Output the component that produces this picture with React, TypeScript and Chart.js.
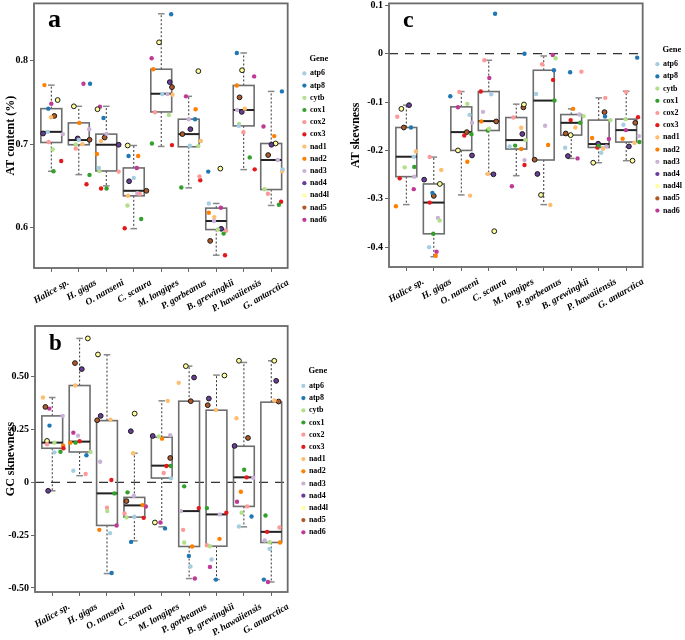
import React, { useEffect, useRef } from 'react';
import { Chart, registerables } from 'chart.js';

Chart.register(...registerables);

// ---------- categories ----------
const species = ['Halice sp.', 'H. gigas', 'O. nanseni', 'C. scaura', 'M. longipes', 'P. gorbeanus', 'B. grewingkii', 'P. hawaiiensis', 'G. antarctica'];
const genes = ['atp6', 'atp8', 'cytb', 'cox1', 'cox2', 'cox3', 'nad1', 'nad2', 'nad3', 'nad4', 'nad4l', 'nad5', 'nad6'];
const geneColors = ['#A6CEE3', '#1F78B4', '#B2DF8A', '#33A02C', '#FB9A99', '#E31A1C', '#FDBF6F', '#FF7F00', '#CAB2D6', '#6A3D9A', '#FFFF99', '#B15928', '#BE3A96'];
const outlinedGenes = ['nad4', 'nad4l', 'nad5'];

// ---------- panel a: AT content (rows = genes, cols = species) ----------
const atContent = [
  [0.7146, 0.705, 0.6715, 0.6596, 0.7597, 0.698, 0.6291, 0.7217, 0.6698], // atp6
  [0.7423, 0.772, 0.7312, 0.6857, 0.8551, 0.7297, 0.6671, 0.8088, 0.7629], // atp8
  [0.6936, 0.6995, 0.6679, 0.6267, 0.7348, 0.6976, 0.598, 0.7241, 0.6461], // cytb
  [0.6675, 0.6632, 0.6469, 0.6105, 0.7007, 0.6481, 0.5931, 0.6841, 0.6276], // cox1
  [0.7024, 0.6948, 0.6671, 0.6405, 0.738, 0.6612, 0.5964, 0.7142, 0.6406], // cox2
  [0.6798, 0.652, 0.6469, 0.5994, 0.6988, 0.6568, 0.5672, 0.6698, 0.6311], // cox3
  [0.732, 0.6999, 0.7036, 0.6382, 0.7589, 0.7036, 0.6128, 0.7423, 0.6675], // nad1
  [0.7704, 0.7253, 0.6881, 0.6857, 0.7894, 0.7416, 0.618, 0.77, 0.7095], // nad2
  [0.7119, 0.7178, 0.7122, 0.6413, 0.7597, 0.7297, 0.6081, 0.7407, 0.681], // nad3
  [0.7126, 0.7067, 0.6992, 0.6556, 0.774, 0.7178, 0.5988, 0.7384, 0.6992], // nad4
  [0.7526, 0.7451, 0.7416, 0.6983, 0.8215, 0.7871, 0.6707, 0.7882, 0.7007], // nad4l
  [0.7336, 0.7051, 0.7078, 0.6442, 0.768, 0.7119, 0.5844, 0.7558, 0.6869], // nad5
  [0.7482, 0.772, 0.7447, 0.6715, 0.8025, 0.757, 0.624, 0.7808, 0.7209], // nad6
];
const atContentJitter = [
  [-0.13, 0, -0.27, 0, 0.04, 0.04, -0.27, -0.18, 0.42],
  [-0.11, 0.41, -0.1, -0.19, 0.36, 0.23, -0.29, -0.25, 0.39],
  [0.05, -0.11, -0.25, -0.23, 0.28, 0.35, 0.06, -0.17, -0.24],
  [0.08, 0.39, 0.01, 0.27, -0.34, -0.27, 0.27, 0.22, 0.28],
  [-0.1, -0.11, 0.45, 0.22, -0.23, 0.39, 0.36, -0.01, -0.12],
  [0.36, 0.28, -0.19, -0.33, 0.39, 0.42, 0.32, 0.4, 0.36],
  [-0.01, 0.13, -0.19, -0.21, 0.41, 0.44, -0.07, 0.04, 0.4],
  [-0.25, 0.02, -0.34, 0.16, -0.29, 0.25, -0.27, -0.25, 0.11],
  [0.42, 0.38, 0.01, 0.13, 0.23, 0, -0.08, -0.24, 0.24],
  [-0.3, -0.04, 0.45, -0.17, 0.31, 0.06, 0.18, -0.07, 0.01],
  [0.23, -0.18, -0.32, -0.22, -0.08, 0.35, 0.15, -0.06, 0.16],
  [0.11, 0.39, -0.06, 0.46, 0.39, -0.23, -0.22, -0.15, -0.11],
  [0, 0.17, -0.23, 0.11, -0.35, -0.1, 0.17, 0.38, -0.28],
];
const atContentQ1 = [0.7019, 0.6992, 0.6679, 0.6382, 0.7384, 0.6968, 0.5979, 0.7217, 0.6457];
const atContentMedian = [0.7146, 0.7048, 0.6992, 0.6442, 0.7601, 0.7119, 0.6081, 0.7407, 0.681];
const atContentQ3 = [0.7423, 0.7253, 0.7119, 0.6715, 0.7894, 0.7297, 0.6235, 0.77, 0.7007];
const atContentLow = [0.6675, 0.6635, 0.6501, 0.599, 0.6972, 0.6477, 0.5673, 0.6695, 0.6267];
const atContentHigh = [0.7704, 0.7451, 0.7451, 0.6983, 0.8556, 0.757, 0.6291, 0.8088, 0.7629];
const atContentTicks = [0.6, 0.7, 0.8];
const atContentTickLabels = ['0.6', '0.7', '0.8'];

// ---------- panel c: AT skewness ----------
const atSkew = [
  [-0.213, -0.4, -0.1264, -0.0837, -0.192, -0.0831, -0.1944, -0.2047, -0.147], // atp6
  [-0.1526, -0.2878, -0.0879, 0.0825, 0.0, -0.0342, -0.0384, -0.1299, -0.0082], // atp8
  [-0.235, -0.345, -0.1037, -0.1553, -0.1786, -0.0095, -0.129, -0.1373, -0.1353], // cytb
  [-0.234, -0.3724, -0.1663, -0.1588, -0.19, -0.0969, -0.1429, -0.19, -0.1827], // cox1
  [-0.1305, -0.2137, -0.079, -0.0136, -0.132, -0.0219, -0.0371, -0.0913, -0.079], // cox2
  [-0.2577, -0.3078, -0.169, -0.0783, -0.23, -0.0542, -0.1373, -0.1938, -0.1312], // cox3
  [-0.202, -0.2405, -0.2934, -0.2487, -0.153, -0.3126, -0.1526, -0.1965, -0.1841], // nad1
  [-0.3155, -0.4178, -0.2233, -0.14, -0.197, -0.1889, -0.114, -0.1744, -0.1759], // nad2
  [-0.2542, -0.3394, -0.1429, -0.1202, -0.22, -0.149, -0.1258, -0.1917, -0.1704], // nad3
  [-0.1064, -0.2604, -0.2103, -0.2494, -0.166, -0.2487, -0.2116, -0.1862, -0.1917], // nad4
  [-0.114, -0.2693, -0.2, -0.367, -0.105, -0.292, -0.1683, -0.2254, -0.2212], // nad4l
  [-0.1526, -0.294, -0.1621, -0.14, -0.111, -0.2192, -0.165, -0.1208, -0.1429], // nad5
  [-0.28, -0.4095, -0.1106, -0.0501, -0.274, -0.0027, -0.2165, -0.1765, -0.158], // nad6
];
const atSkewJitter = [
  [0.27, -0.17, 0.3, 0.09, -0.24, -0.28, -0.22, 0.09, -0.1],
  [0.17, -0.05, -0.4, 0.23, 0.3, 0.37, -0.04, 0.23, 0.4],
  [-0.06, 0.21, 0.22, 0.01, 0.33, 0.43, 0.45, 0.43, -0.02],
  [0.29, -0.02, 0.37, -0.04, -0.04, 0.39, 0.33, 0.0, 0.48],
  [-0.33, -0.15, -0.07, -0.16, -0.1, -0.06, 0.37, 0.24, 0],
  [-0.24, -0.15, 0.11, -0.29, 0.3, 0.34, -0.02, -0.05, 0.43],
  [0.35, 0.27, 0.32, -0.04, 0.18, 0.24, 0.15, 0.16, 0.3],
  [-0.38, 0.07, 0.22, -0.27, 0.18, 0.16, 0.07, -0.24, -0.13],
  [0.29, 0.15, 0.39, -0.21, 0.3, 0.05, 0.3, 0.28, 0.46],
  [0.1, -0.35, 0.39, 0.17, 0.22, -0.23, -0.12, -0.02, 0.1],
  [-0.18, 0.22, -0.12, 0.2, 0.28, -0.1, -0.02, -0.2, 0.23],
  [-0.09, 0, 0.2, 0.27, 0.26, -0.33, -0.2, 0.21, 0.33],
  [0.27, 0.1, -0.12, 0.02, -0.16, 0.33, 0.23, 0.37, -0.01],
];
const atSkewQ1 = [-0.2542, -0.3724, -0.2, -0.1588, -0.1971, -0.2198, -0.1683, -0.1938, -0.1827];
const atSkewMedian = [-0.213, -0.3078, -0.1621, -0.1394, -0.1786, -0.0969, -0.1429, -0.1868, -0.158];
const atSkewQ3 = [-0.1526, -0.2693, -0.1099, -0.0783, -0.132, -0.0342, -0.1258, -0.1373, -0.1353];
const atSkewLow = [-0.312, -0.4198, -0.292, -0.2487, -0.2522, -0.312, -0.2165, -0.2254, -0.2212];
const atSkewHigh = [-0.1064, -0.2137, -0.0783, -0.0136, -0.1043, -0.0047, -0.114, -0.0913, -0.0776];
const atSkewTicks = [-0.4, -0.3, -0.2, -0.1, 0, 0.1];
const atSkewTickLabels = ['-0.4', '-0.3', '-0.2', '-0.1', '0', '0.1'];

// ---------- panel b: GC skewness ----------
const gcSkew = [
  [0.142, 0.055, -0.2405, -0.163, 0.019, -0.3985, -0.3653, -0.2087, -0.315], // atp6
  [0.2685, 0.128, -0.4288, -0.2818, -0.218, -0.3482, -0.4602, -0.1613, -0.4602], // atp8
  [0.188, 0.1437, -0.136, -0.166, 0.217, -0.2846, -0.3022, -0.144, -0.2832], // cytb
  [0.145, 0.188, -0.0522, -0.0474, 0.0773, -0.019, -0.122, 0.0598, -0.1566], // cox1
  [0.18, 0.0394, -0.1205, -0.147, 0.0441, -0.2248, -0.2974, -0.1139, -0.2135], // cox2
  [0.1613, 0.1945, 0.011, -0.168, 0.0773, -0.122, -0.144, 0.0237, -0.2343], // cox3
  [0.4015, 0.4583, 0.297, 0.1376, 0.3857, 0.471, 0.343, 0.3036, 0.3871], // nad1
  [0.1736, 0.188, -0.2248, -0.1077, 0.2068, -0.3036, -0.2675, -0.0446, -0.2846], // nad2
  [0.3145, 0.221, 0.0977, -0.0633, 0.2229, -0.1361, -0.1518, 0.022, -0.2751], // nad3
  [-0.04, 0.536, 0.3145, 0.242, 0.2196, 0.4962, 0.3966, 0.1722, 0.4805], // nad4
  [0.196, 0.6813, 0.6053, 0.3255, -0.19, 0.55, 0.5057, 0.5754, 0.5754], // nad4l
  [0.357, 0.5645, 0.294, -0.0887, 0.1153, 0.3842, 0.3653, 0.2102, 0.3824], // nad5
  [0.349, 0.2353, -0.204, -0.114, -0.19, -0.4554, -0.4003, -0.092, -0.4715], // nad6
];
const gcSkewJitter = [
  [0.08, -0.23, 0.11, 0, 0.34, 0.05, -0.18, -0.18, -0.06],
  [-0.1, 0.25, 0.17, -0.12, 0.12, -0.01, -0.02, 0.28, -0.27],
  [0.08, 0.4, 0.01, -0.29, -0.11, -0.18, -0.24, -0.08, -0.06],
  [0.3, -0.15, 0.27, -0.25, 0.33, -0.18, -0.35, 0.01, -0.21],
  [-0.19, 0.22, 0, -0.36, 0.07, -0.22, -0.35, 0.12, 0.3],
  [0.41, 0, 0.16, 0.34, 0.17, 0.35, 0.36, 0.1, -0.15],
  [-0.34, -0.16, 0.13, -0.04, 0.22, -0.38, -0.02, -0.27, 0.12],
  [0.4, -0.34, -0.28, 0.3, 0.01, 0.11, 0.11, -0.11, 0.32],
  [0.38, -0.06, -0.25, -0.02, 0.31, -0.3, 0.12, 0.34, -0.24],
  [-0.15, 0.08, -0.23, -0.13, -0.33, 0.18, -0.28, -0.34, 0.18],
  [-0.19, 0.3, -0.33, 0.01, -0.25, -0.12, 0.29, -0.18, 0.11],
  [-0.25, -0.17, -0.36, -0.29, 0.31, 0.06, -0.32, 0.15, 0.27],
  [-0.11, -0.23, 0.35, 0.42, -0.05, 0.21, -0.24, -0.25, -0.12],
];
const gcSkewQ1 = [0.1613, 0.1437, -0.204, -0.1646, 0.0204, -0.3036, -0.3022, -0.1139, -0.2846];
const gcSkewMedian = [0.188, 0.1927, -0.0522, -0.1091, 0.079, -0.1361, -0.1518, 0.0237, -0.2343];
const gcSkewQ3 = [0.3145, 0.4583, 0.2922, -0.0712, 0.2135, 0.3842, 0.3415, 0.1708, 0.3795];
const gcSkewLow = [-0.04, 0.0315, -0.4317, -0.277, -0.2106, -0.4554, -0.4602, -0.2106, -0.4715];
const gcSkewHigh = [0.4015, 0.6813, 0.604, 0.1376, 0.3857, 0.55, 0.5076, 0.5674, 0.5754];
const gcSkewTicks = [-0.5, -0.25, 0, 0.25, 0.5];
const gcSkewTickLabels = ['-0.50', '-0.25', '0', '0.25', '0.50'];

const SERIF = "'Liberation Serif', 'Times New Roman', serif";

type PanelSpec = {
  letter: string;
  letterSize: number;
  yTitle: string;
  values: number[][];
  jitter: number[][];
  q1: number[];
  median: number[];
  q3: number[];
  low: number[];
  high: number[];
  yMin: number;
  yMax: number;
  yTicks: number[];
  yTickLabels: string[];
  zeroLine: boolean;
  width: number;
  height: number;
  padTop: number;
  padRight: number;
  yAxisWidth: number;
  xAxisHeight: number;
  legendGap: number;
  titlePad: number;
  legendTitleTop: number;
  legendTitleBottom: number;
};

function decorPlugin(spec: PanelSpec) {
  const line = (ctx: CanvasRenderingContext2D, x1: number, y1: number, x2: number, y2: number) => {
    ctx.beginPath();
    ctx.moveTo(x1, y1);
    ctx.lineTo(x2, y2);
    ctx.stroke();
  };
  return {
    id: 'decor_' + spec.letter,
    beforeDatasetsDraw(chart: any) {
      const { ctx, chartArea: ca } = chart;
      const xs = chart.scales.x;
      const ys = chart.scales.y;
      ctx.save();
      if (spec.zeroLine) {
        ctx.strokeStyle = '#333';
        ctx.lineWidth = 1.2;
        ctx.setLineDash([9, 7]);
        const y0 = ys.getPixelForValue(0);
        line(ctx, ca.left, y0, ca.right, y0);
      }
      for (let i = 0; i < species.length; i++) {
        const cx = xs.getPixelForValue(i);
        const hw = xs.getPixelForValue(i + 0.38) - cx;
        const cw = xs.getPixelForValue(i + 0.12) - cx;
        const yq1 = ys.getPixelForValue(spec.q1[i]);
        const yq3 = ys.getPixelForValue(spec.q3[i]);
        const ymed = ys.getPixelForValue(spec.median[i]);
        const ylo = ys.getPixelForValue(spec.low[i]);
        const yhi = ys.getPixelForValue(spec.high[i]);
        ctx.setLineDash([2, 2]);
        ctx.strokeStyle = '#333';
        ctx.lineWidth = 1;
        line(ctx, cx, yq3, cx, yhi);
        line(ctx, cx, yq1, cx, ylo);
        ctx.setLineDash([]);
        ctx.strokeStyle = '#888';
        ctx.lineWidth = 1.5;
        line(ctx, cx - cw, yhi, cx + cw, yhi);
        line(ctx, cx - cw, ylo, cx + cw, ylo);
        ctx.strokeStyle = '#6e6e6e';
        ctx.lineWidth = 1.6;
        ctx.strokeRect(cx - hw, yq3, 2 * hw, yq1 - yq3);
        ctx.strokeStyle = '#222';
        ctx.lineWidth = 2;
        line(ctx, cx - hw, ymed, cx + hw, ymed);
      }
      ctx.restore();
    },
    afterDatasetsDraw(chart: any) {
      const { ctx, chartArea: ca } = chart;
      ctx.save();
      ctx.strokeStyle = '#6a6a6a';
      ctx.lineWidth = 1.8;
      ctx.strokeRect(ca.left, ca.top, ca.right - ca.left, ca.bottom - ca.top);
      ctx.fillStyle = '#000';
      ctx.font = `bold ${spec.letterSize}px ${SERIF}`;
      ctx.textAlign = 'left';
      ctx.textBaseline = 'alphabetic';
      ctx.fillText(spec.letter, ca.left + 14, ca.top + 24);
      ctx.restore();
    },
  };
}

function buildChart(canvas: HTMLCanvasElement, spec: PanelSpec) {
  const datasets = genes.map((g, gi) => {
    const outlined = outlinedGenes.includes(g);
    return {
      label: g,
      data: species.map((_, si) => ({ x: si + spec.jitter[gi][si], y: spec.values[gi][si] })),
      backgroundColor: geneColors[gi],
      borderColor: outlined ? '#1a1a1a' : geneColors[gi],
      borderWidth: outlined ? 1 : 0,
      pointRadius: outlined ? 2.4 : 2.2,
      pointHoverRadius: 2.4,
    };
  });
  return new Chart(canvas, {
    type: 'scatter',
    data: { datasets },
    options: {
      responsive: false,
      animation: false,
      events: [],
      layout: { padding: { top: spec.padTop, right: spec.padRight, bottom: 0, left: 0 } },
      scales: {
        x: {
          type: 'linear',
          min: -0.63,
          max: 8.6,
          afterBuildTicks: (s: any) => {
            s.ticks = species.map((_, i) => ({ value: i }));
          },
          afterFit: (s: any) => {
            s.height = spec.xAxisHeight;
            s.paddingLeft = 0;
            s.paddingRight = 0;
          },
          ticks: {
            callback: (v: any) => species[Math.round(Number(v))] ?? '',
            autoSkip: false,
            minRotation: 30,
            maxRotation: 30,
            labelOffset: 17,
            padding: 5,
            color: '#000',
            font: { family: SERIF, size: 9.5, weight: 'bold', style: 'italic' },
          },
          grid: { drawOnChartArea: false, drawTicks: true, tickLength: 4, color: '#666' },
          border: { display: false },
        },
        y: {
          type: 'linear',
          min: spec.yMin,
          max: spec.yMax,
          afterBuildTicks: (s: any) => {
            s.ticks = spec.yTicks.map((v) => ({ value: v }));
          },
          afterFit: (s: any) => {
            s.width = spec.yAxisWidth;
            s.paddingTop = 0;
            s.paddingBottom = 0;
          },
          ticks: {
            callback: (v: any) => {
              const idx = spec.yTicks.findIndex((t) => Math.abs(t - Number(v)) < 1e-9);
              return idx >= 0 ? spec.yTickLabels[idx] : '';
            },
            padding: 2,
            color: '#000',
            font: { family: SERIF, size: 10, weight: 'bold' },
          },
          grid: { drawOnChartArea: false, drawTicks: true, tickLength: 4, color: '#666' },
          border: { display: false },
          title: {
            display: true,
            text: spec.yTitle,
            color: '#000',
            font: { family: SERIF, size: 12, weight: 'bold' },
            padding: { top: spec.titlePad, bottom: 4 },
          },
        },
        gap: {
          type: 'linear',
          position: 'right',
          display: true,
          ticks: { display: false },
          grid: { display: false },
          border: { display: false },
          afterFit: (s: any) => {
            s.width = spec.legendGap;
            s.paddingTop = 0;
            s.paddingBottom = 0;
          },
        },
      },
      plugins: {
        tooltip: { enabled: false },
        legend: {
          position: 'right',
          align: 'start',
          fullSize: false,
          title: {
            display: true,
            text: 'Gene',
            color: '#000',
            font: { family: SERIF, size: 8.5, weight: 'bold' },
            padding: { top: spec.legendTitleTop, bottom: spec.legendTitleBottom },
          },
          labels: {
            usePointStyle: true,
            pointStyle: 'circle',
            boxWidth: 3,
            boxHeight: 3,
            padding: 4.2,
            color: '#000',
            font: { family: SERIF, size: 8, weight: 'bold' },
            generateLabels: (chart: any) =>
              (Chart.defaults.plugins.legend.labels.generateLabels as any)(chart).map((l: any) => ({
                ...l,
                strokeStyle: l.fillStyle,
                lineWidth: 0,
              })),
          },
        },
      },
    } as any,
    plugins: [decorPlugin(spec)],
  });
}

const panelA: PanelSpec = {
  letter: 'a', letterSize: 26, yTitle: 'AT content (%)',
  values: atContent, jitter: atContentJitter,
  q1: atContentQ1, median: atContentMedian, q3: atContentQ3, low: atContentLow, high: atContentHigh,
  yMin: 0.552, yMax: 0.868, yTicks: atContentTicks, yTickLabels: atContentTickLabels,
  zeroLine: false, width: 340, height: 318, padTop: 2, padRight: 1, yAxisWidth: 34, xAxisHeight: 50, legendGap: 11, titlePad: 4,
  legendTitleTop: 50.7, legendTitleBottom: 0.9,
};
const panelC: PanelSpec = {
  letter: 'c', letterSize: 24, yTitle: 'AT skewness',
  values: atSkew, jitter: atSkewJitter,
  q1: atSkewQ1, median: atSkewMedian, q3: atSkewQ3, low: atSkewLow, high: atSkewHigh,
  yMin: -0.441, yMax: 0.104, yTicks: atSkewTicks, yTickLabels: atSkewTickLabels,
  zeroLine: true, width: 352, height: 318, padTop: 2, padRight: 0, yAxisWidth: 49, xAxisHeight: 51, legendGap: 9, titlePad: 9,
  legendTitleTop: 42.4, legendTitleBottom: 0,
};
const panelB: PanelSpec = {
  letter: 'b', letterSize: 23, yTitle: 'GC sknewness',
  values: gcSkew, jitter: gcSkewJitter,
  q1: gcSkewQ1, median: gcSkewMedian, q3: gcSkewQ3, low: gcSkewLow, high: gcSkewHigh,
  yMin: -0.519, yMax: 0.74, yTicks: gcSkewTicks, yTickLabels: gcSkewTickLabels,
  zeroLine: true, width: 340, height: 320, padTop: 6, padRight: 2, yAxisWidth: 35, xAxisHeight: 48, legendGap: 10, titlePad: 4,
  legendTitleTop: 40.4, legendTitleBottom: 1.1,
};

function Panel({ spec, left, top }: { spec: PanelSpec; left: number; top: number }) {
  const ref = useRef<HTMLCanvasElement | null>(null);
  useEffect(() => {
    if (!ref.current) return;
    const chart = buildChart(ref.current, spec);
    return () => chart.destroy();
  }, [spec]);
  return (
    <canvas
      ref={ref}
      width={spec.width}
      height={spec.height}
      style={{ position: 'absolute', left, top, width: spec.width, height: spec.height }}
    />
  );
}

export default function App() {
  return (
    <div style={{ position: 'absolute', left: 0, top: 0, width: 685, height: 640, background: '#fff', overflow: 'hidden' }}>
      <Panel spec={panelA} left={0} top={0} />
      <Panel spec={panelC} left={340} top={0} />
      <Panel spec={panelB} left={0} top={320} />
    </div>
  );
}
